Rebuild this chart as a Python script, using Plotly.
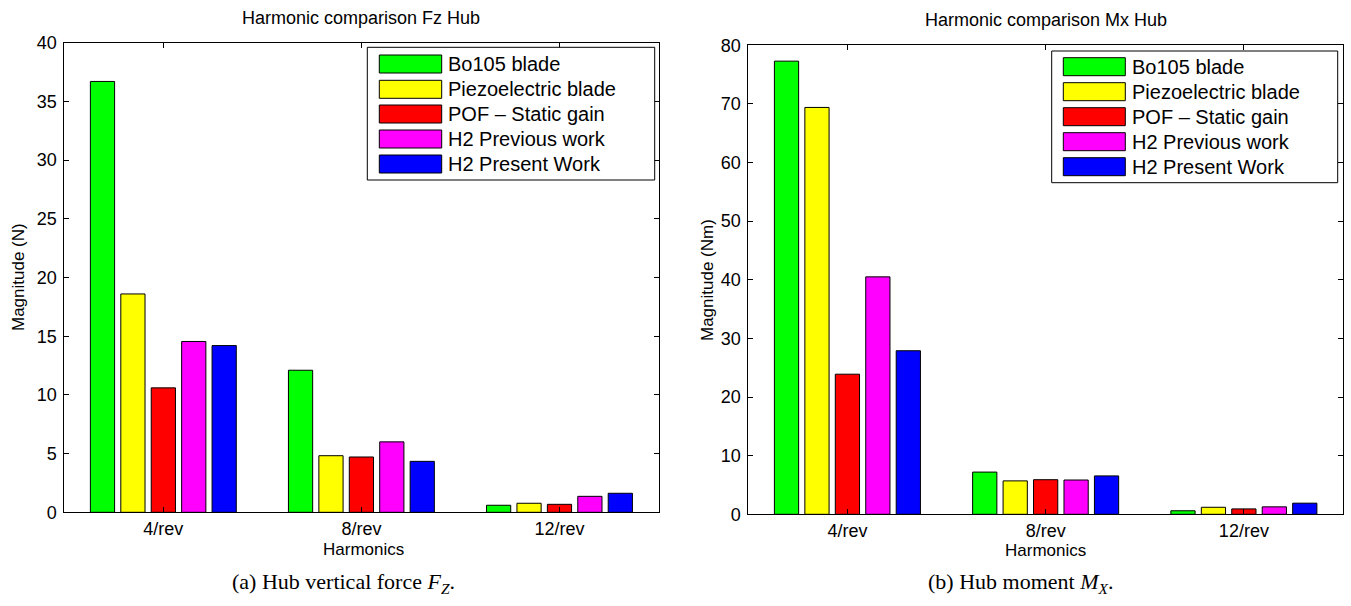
import plotly.graph_objects as go

W, H = 1351, 606

harmonics = ["4/rev", "8/rev", "12/rev"]
series_names = ["Bo105 blade", "Piezoelectric blade", "POF \u2013 Static gain",
                "H2 Previous work", "H2 Present Work"]
series_colors = ["#00ff00", "#ffff00", "#ff0000", "#ff00ff", "#0000ff"]

# Hub vertical force Fz (N)
fz_bo105 = [36.7, 12.1, 0.60]
fz_piezo = [18.6, 4.82, 0.77]
fz_pof = [10.6, 4.71, 0.68]
fz_h2_prev = [14.55, 6.0, 1.36]
fz_h2_present = [14.2, 4.34, 1.62]

# Hub moment Mx (Nm)
mx_bo105 = [77.3, 7.2, 0.6]
mx_piezo = [69.4, 5.7, 1.2]
mx_pof = [23.9, 5.9, 0.92]
mx_h2_prev = [40.5, 5.85, 1.27]
mx_h2_present = [27.9, 6.55, 1.9]

fz_series = [fz_bo105, fz_piezo, fz_pof, fz_h2_prev, fz_h2_present]
mx_series = [mx_bo105, mx_piezo, mx_pof, mx_h2_prev, mx_h2_present]

SANS = "Liberation Sans, Arial, Helvetica, sans-serif"
SERIF = "Liberation Serif, Times New Roman, serif"


def px(x):
    return x / W


def py(y):
    return 1 - y / H


fig = go.Figure()

for vals, name, col in zip(fz_series, series_names, series_colors):
    fig.add_trace(go.Bar(x=harmonics, y=vals, name=name, marker_color=col,
                         marker_line_color="black", marker_line_width=1,
                         xaxis="x", yaxis="y", showlegend=False))
for vals, name, col in zip(mx_series, series_names, series_colors):
    fig.add_trace(go.Bar(x=harmonics, y=vals, name=name, marker_color=col,
                         marker_line_color="black", marker_line_width=1,
                         xaxis="x2", yaxis="y2", showlegend=False))

axis_common = dict(showline=True, linecolor="black", linewidth=1, mirror="ticks",
                   ticks="inside", ticklen=5, tickcolor="black", showgrid=False,
                   zeroline=False, automargin=False,
                   tickfont=dict(family=SANS, size=18, color="black"))

# panel pixel geometry (x0, x1, ytop, ybottom)
L1 = (64.3, 658.5, 42.7, 512.3)
L2 = (748.3, 1343.0, 45.3, 514.3)

fig.update_layout(
    width=W, height=H, margin=dict(l=0, r=0, t=0, b=0, autoexpand=False),
    paper_bgcolor="white", plot_bgcolor="white",
    barmode="group", bargap=0.232, bargroupgap=0.204,
    showlegend=False,
    xaxis=dict(domain=[px(L1[0]), px(L1[1])], anchor="y", type="category",
               range=[-0.5, 2.5], ticklabelstandoff=0, **axis_common),
    yaxis=dict(domain=[py(L1[3]), py(L1[2])], anchor="x", range=[0, 40],
               dtick=5, ticklabelstandoff=3, **axis_common),
    xaxis2=dict(domain=[px(L2[0]), px(L2[1])], anchor="y2", type="category",
                range=[-0.5, 2.5], ticklabelstandoff=0, **axis_common),
    yaxis2=dict(domain=[py(L2[3]), py(L2[2])], anchor="x2", range=[0, 80],
                dtick=10, ticklabelstandoff=3, **axis_common),
)

annotations = []
shapes = []


def text(x, y, s, size, family=SANS, angle=0, xanchor="center"):
    annotations.append(dict(x=px(x), y=py(y), xref="paper", yref="paper", text=s,
                            showarrow=False, textangle=angle, xanchor=xanchor,
                            yanchor="middle",
                            font=dict(family=family, size=size, color="black")))


# titles
text(361.4, 18, "Harmonic comparison Fz Hub", 18)
text(1045.6, 20, "Harmonic comparison Mx Hub", 18)
# y titles
text(18, 277, "Magnitude (N)", 17, angle=-90)
text(707, 280, "Magnitude (Nm)", 17, angle=-90)
# x titles
text(363, 549, "Harmonics", 17)
text(1045, 550, "Harmonics", 17)
# captions
text(343, 583, "(a) Hub vertical force <i>F<sub>Z</sub></i>.", 22, family=SERIF)
text(1020, 583, "(b) Hub moment <i>M<sub>X</sub></i>.", 22, family=SERIF)


def legend(box, sw_x0, sw_x1, text_x, rows_y):
    x0, x1, y0, y1 = box
    shapes.append(dict(type="rect", xref="paper", yref="paper",
                       x0=px(x0), x1=px(x1), y0=py(y1), y1=py(y0),
                       fillcolor="white", line=dict(color="black", width=1),
                       layer="above"))
    for name, col, ry in zip(series_names, series_colors, rows_y):
        shapes.append(dict(type="rect", xref="paper", yref="paper",
                           x0=px(sw_x0), x1=px(sw_x1), y0=py(ry + 9), y1=py(ry - 9),
                           fillcolor=col, line=dict(color="black", width=1),
                           layer="above"))
        text(text_x, ry, name, 20, xanchor="left")


legend((367.3, 654.7, 47.3, 180.0), 379.3, 441.7, 446.0,
       [64.0, 89.3, 114.0, 139.0, 164.0])
legend((1051.7, 1337.7, 51.0, 182.7), 1063.3, 1125.3, 1130.0,
       [66.7, 91.7, 116.7, 141.7, 166.7])

fig.update_layout(annotations=annotations, shapes=shapes)

fig.write_html("out.html")
